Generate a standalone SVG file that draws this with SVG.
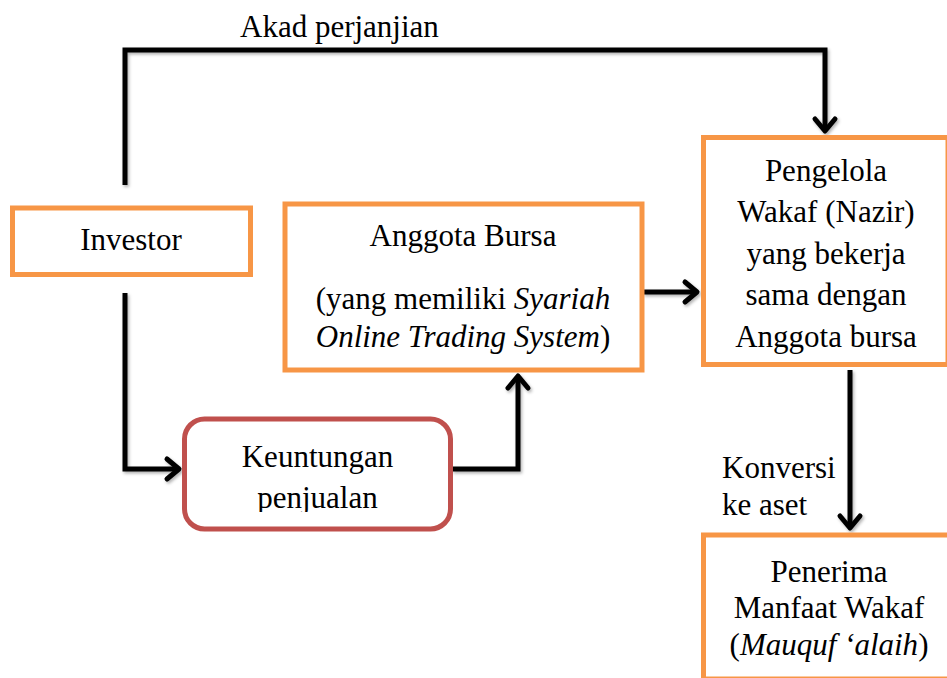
<svg xmlns="http://www.w3.org/2000/svg" width="947" height="678" viewBox="0 0 947 678" font-family="Liberation Serif, Tinos, Times New Roman, DejaVu Serif, serif">
<style>
  text { font-size: 31px; fill: #000; }
  .c { text-anchor: middle; }
  .i { font-style: italic; }
  .box { fill: #fff; stroke: #F79646; stroke-width: 5; }
  .rbox { fill: #fff; stroke: #C0504D; stroke-width: 5; }
  .conn { fill: none; stroke: #000; stroke-width: 5; stroke-linejoin: miter; }
</style>
<defs>
  <marker id="arr" markerUnits="userSpaceOnUse" viewBox="-16 -14 20 28" refX="0" refY="0" markerWidth="20" markerHeight="28" orient="auto" overflow="visible">
    <path d="M-12,-10 L0,0 L-12,10" fill="none" stroke="#000" stroke-width="5" stroke-linejoin="round" stroke-linecap="round"/>
  </marker>
  <filter id="sh" x="-10%" y="-10%" width="120%" height="120%">
    <feDropShadow dx="1.5" dy="2" stdDeviation="1.5" flood-color="#000" flood-opacity="0.3"/>
  </filter>
  <clipPath id="clipK"><rect x="180" y="410" width="280" height="102"/></clipPath>
</defs>
<rect width="947" height="678" fill="#fff"/>

<g id="connectors" filter="url(#sh)">
  <path class="conn" d="M125,185 V50 H825 V131" marker-end="url(#arr)"/>
  <path class="conn" d="M125,293 V469 H179" marker-end="url(#arr)"/>
  <path class="conn" d="M452,469 H518 V376" marker-end="url(#arr)"/>
  <path class="conn" d="M643,292 H697" marker-end="url(#arr)"/>
  <path class="conn" d="M850,370 V528" marker-end="url(#arr)"/>
</g>

<g id="label-akad">
  <text x="240" y="37" font-family="Liberation Serif">Akad perjanjian</text>
</g>

<g id="investor">
  <rect class="box" x="12.5" y="208" width="238" height="66.5"/>
  <text class="c" x="131" y="250" font-family="Liberation Serif">Investor</text>
</g>

<g id="anggota-bursa">
  <rect class="box" x="285" y="204" width="357" height="166"/>
  <text class="c" x="463" y="246" font-family="Liberation Serif">Anggota Bursa</text>
  <text class="c" x="463" y="309" font-family="Liberation Serif">(yang memiliki <tspan class="i">Syariah</tspan></text>
  <text class="c" x="463" y="347" font-family="Liberation Serif"><tspan class="i">Online Trading System</tspan>)</text>
</g>

<g id="pengelola">
  <rect class="box" x="703.5" y="137.5" width="244.5" height="227"/>
  <text class="c" x="826" y="181" font-family="Liberation Serif">Pengelola</text>
  <text class="c" x="826" y="222" font-family="Liberation Serif">Wakaf (Nazir)</text>
  <text class="c" x="826" y="264" font-family="Liberation Serif">yang bekerja</text>
  <text class="c" x="826" y="305" font-family="Liberation Serif">sama dengan</text>
  <text class="c" x="826" y="347" font-family="Liberation Serif">Anggota bursa</text>
</g>

<g id="keuntungan">
  <rect class="rbox" x="184.5" y="419" width="266" height="110" rx="20" ry="20"/>
  <text class="c" x="317.5" y="467" font-family="Liberation Serif">Keuntungan</text>
  <text class="c" x="317.5" y="508" font-family="Liberation Serif" clip-path="url(#clipK)">penjualan</text>
</g>

<g id="label-konversi">
  <text x="722" y="478" font-family="Liberation Serif">Konversi</text>
  <text x="722" y="515" font-family="Liberation Serif">ke aset</text>
</g>

<g id="penerima">
  <rect class="box" x="703.5" y="535" width="260" height="144"/>
  <text class="c" x="829" y="582" font-family="Liberation Serif">Penerima</text>
  <text class="c" x="829" y="618" font-family="Liberation Serif">Manfaat Wakaf</text>
  <text class="c" x="829" y="655" font-family="Liberation Serif">(<tspan class="i">Mauquf ‘alaih</tspan>)</text>
</g>
</svg>
